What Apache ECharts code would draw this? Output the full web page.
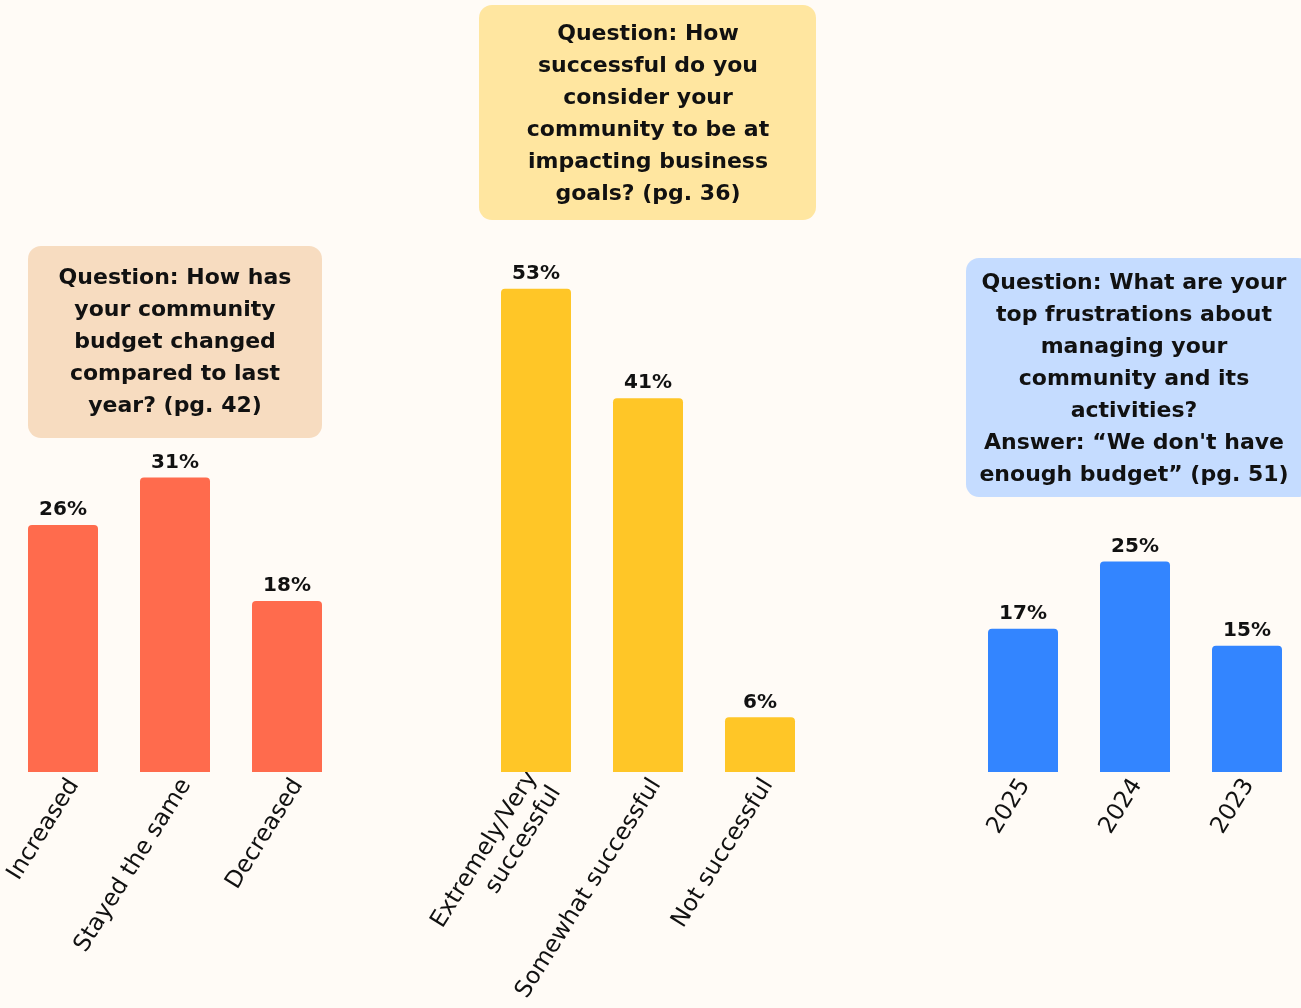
<!DOCTYPE html>
<html><head><meta charset="utf-8">
<script src="https://cdn.jsdelivr.net/npm/echarts@6/dist/echarts.min.js"></script>
<style>html,body{margin:0;padding:0;background:#FFFBF6;}#c{width:1301px;height:1008px;}</style>
</head><body><div id="c"></div>
<script>
const budgetCats = ['Increased', 'Stayed the same', 'Decreased'];
const budgetVals = [26, 31, 18];
const successCats = ['Extremely/Very\nsuccessful', 'Somewhat successful', 'Not successful'];
const successVals = [53, 41, 6];
const yearCats = ['2025', '2024', '2023'];
const yearVals = [17, 25, 15];
const q1 = 'Question: How has\nyour community\nbudget changed\ncompared to last\nyear? (pg. 42)';
const q2 = 'Question: How\nsuccessful do you\nconsider your\ncommunity to be at\nimpacting business\ngoals? (pg. 36)';
const q3 = 'Question: What are your\ntop frustrations about\nmanaging your\ncommunity and its\nactivities?\nAnswer: \u201cWe don\'t have\nenough budget\u201d (pg. 51)';

const FONT = 'DejaVu Sans';
const chart = echarts.init(document.getElementById('c'), null, {renderer: 'canvas'});

function xAx(idx, cats, showLabel) {
  return {gridIndex: idx, type: 'category', data: cats,
    axisLine: {show: false}, axisTick: {show: false},
    axisLabel: {show: showLabel, rotate: 58, margin: 9, color: '#111', fontFamily: FONT,
      fontSize: 23.5, interval: 0, lineHeight: 28}};
}
function yAx(idx, max) {
  return {gridIndex: idx, type: 'value', min: 0, max: max, show: false, splitLine: {show: false}};
}
function ser(idx, vals, color) {
  return {type: 'bar', xAxisIndex: idx, yAxisIndex: idx, data: vals, barWidth: 70,
    itemStyle: {color: color, borderRadius: [4, 4, 0, 0]},
    label: {show: true, position: 'top', distance: 5, formatter: '{c}%', color: '#111',
      fontFamily: FONT, fontWeight: 'bold', fontSize: 20}};
}
function box(x, y, w, h, color, text, cx, ty) {
  return [
    {type: 'rect', shape: {x: x, y: y, width: w, height: h, r: 13}, style: {fill: color}, z: 1},
    {type: 'text', x: cx, y: ty, style: {text: text, fill: '#111', font: 'bold 22px "' + FONT + '"',
      align: 'center', verticalAlign: 'top', lineHeight: 32}, z: 2}
  ];
}
function g(left, top, height) {
  return {left: left, width: 336, top: top, height: height, outerBoundsMode: 'none', containLabel: false};
}

chart.setOption({
  backgroundColor: '#FFFBF6',
  animation: false,
  grid: [
    g(7, 392, 380), g(480, 225, 547), g(967, 519.4, 252.6),
    g(18, 392, 380), g(488, 225, 547), g(969, 519.4, 252.6)
  ],
  xAxis: [xAx(0, budgetCats, false), xAx(1, successCats, false), xAx(2, yearCats, false),
          xAx(3, budgetCats, true), xAx(4, successCats, true), xAx(5, yearCats, true)],
  yAxis: [yAx(0, 40), yAx(1, 60), yAx(2, 30), yAx(3, 40), yAx(4, 60), yAx(5, 30)],
  series: [ser(0, budgetVals, '#FF6B4D'), ser(1, successVals, '#FFC627'), ser(2, yearVals, '#3385FF')],
  graphic: [].concat(
    box(28, 246, 294, 192, '#F7DCC0', q1, 175, 262),
    box(479, 5, 337, 215, '#FFE6A0', q2, 648, 18),
    box(966, 258, 345, 239, '#C5DCFF', q3, 1134, 267)
  )
});
</script></body></html>
